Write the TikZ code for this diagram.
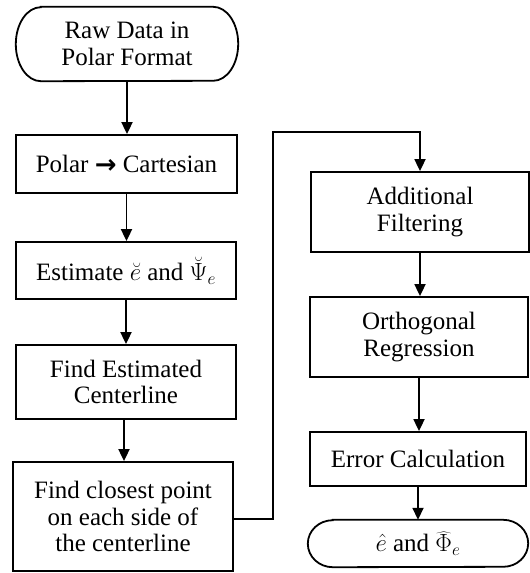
\documentclass[tikz,border=0pt]{standalone}
\usepackage{fontspec}
\setmainfont{Liberation Serif}
\newfontfamily\symfont{DejaVu Sans}
\usetikzlibrary{arrows.meta}

\tikzset{
  box/.style={draw, line width=1.8pt, align=center, inner sep=0pt,
    font=\fontsize{25}{26.7}\selectfont},
  term/.style={align=center, inner sep=0pt,
    font=\fontsize{25}{26.7}\selectfont},
  outline/.style={line width=1.8pt},
  flow/.style={line width=1.8pt, -{Triangle[length=12pt,width=11pt]}},
}

% rounded terminal outline with elliptical ends
\newcommand{\terminal}[3]{% node name, end radius x, end radius y
  \draw[outline] ([xshift=#2]#1.north west) -- ([xshift=-#2]#1.north east)
    arc[start angle=90, end angle=-90, x radius=#2, y radius=#3]
    -- ([xshift=#2]#1.south west)
    arc[start angle=270, end angle=90, x radius=#2, y radius=#3] -- cycle;}

\begin{document}
\begin{tikzpicture}[x=1pt, y=-1pt]
\useasboundingbox (0,0) rectangle (530,573);

% left column
\node[term, minimum width=222pt, minimum height=74pt] (raw) at (127,44)
  {Raw Data in\\Polar Format};
\terminal{raw}{25pt}{37pt}
\node[box, minimum width=221pt, minimum height=58pt] (polar) at (126.5,164)
  {Polar {\symfont\bfseries\fontsize{26}{26}\selectfont\raisebox{-1pt}{→}} Cartesian};
\node[box, minimum width=220pt, minimum height=57pt] (est) at (126,270.5)
  {Estimate $\breve{e}$ and $\breve{\Psi}_e$};
\node[box, minimum width=220pt, minimum height=74pt] (center) at (126,382)
  {Find Estimated\\Centerline};
\node[box, minimum width=220pt, minimum height=109pt] (closest) at (123,516.5)
  {Find closest point\\on each side of\\the centerline};

% right column
\node[box, minimum width=218pt, minimum height=80pt] (filter) at (420,212)
  {Additional\\Filtering};
\node[box, minimum width=218pt, minimum height=80pt] (ortho) at (419,337)
  {Orthogonal\\Regression};
\node[box, minimum width=216pt, minimum height=54pt] (error) at (418,459)
  {Error Calculation};
\node[term, minimum width=220pt, minimum height=47pt] (result) at (418,543.5)
  {$\hat{e}$ and $\widehat{\Phi}_e$};
\terminal{result}{25pt}{23.5pt}

% connectors
\draw[flow] (raw.south) -- (raw.south |- polar.north);
\draw[flow] (polar.south) -- (polar.south |- est.north);
\draw[flow] (est.south) -- (est.south |- center.north);
\draw[flow] ([xshift=-2pt]center.south) -- ([xshift=-2pt]center.south |- closest.north);

\coordinate (up) at (273,519);
\coordinate (over) at (273,132);
\draw[flow] (closest.east |- up) -- (up) -- (over) -- (over -| filter.north) -- (filter.north);

\draw[flow] (filter.south) -- (filter.south |- ortho.north);
\draw[flow] (ortho.south) -- (ortho.south |- error.north);
\draw[flow] (error.south) -- (error.south |- result.north);
\end{tikzpicture}
\end{document}
